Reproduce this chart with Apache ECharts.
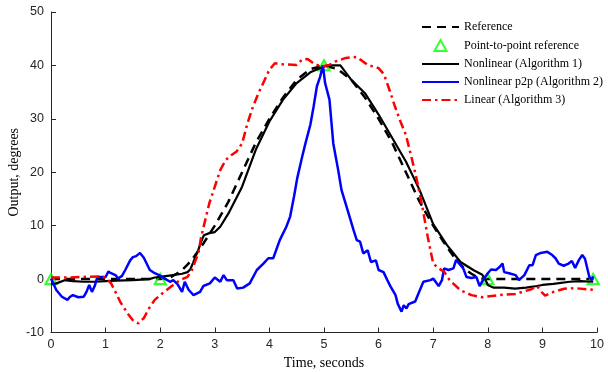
<!DOCTYPE html>
<html>
<head>
<meta charset="utf-8">
<script src="https://cdn.jsdelivr.net/npm/echarts@6/dist/echarts.min.js"></script>
<style>
  html, body { margin: 0; padding: 0; background: #fff; }
  #chart { width: 608px; height: 372px; }
</style>
</head>
<body>
<div id="chart"></div>
<script>
// values: [time (s), output (deg)]
const reference = [
  [0, 0], [0.5, 0], [1, 0], [1.5, 0], [2, 0], [2.1, 0.1], [2.2, 0.4], [2.3, 1.0], [2.4, 1.7],
  [2.5, 2.7], [2.6, 3.9], [2.7, 5.3], [2.8, 6.8], [2.9, 8.4], [3, 10], [3.25, 14.5], [3.5, 20],
  [3.75, 25.5], [4, 30], [4.25, 34], [4.5, 37.3], [4.75, 39.3], [5, 40], [5.25, 39.3], [5.5, 37.3],
  [5.75, 34], [6, 30], [6.25, 25.5], [6.5, 20], [6.75, 14.5], [7, 10], [7.1, 8.4], [7.2, 6.8],
  [7.3, 5.3], [7.4, 3.9], [7.5, 2.7], [7.6, 1.7], [7.7, 1.0], [7.8, 0.4], [7.9, 0.1], [8, 0],
  [8.5, 0], [9, 0], [9.5, 0], [9.93, 0]
];

const p2pPoints = [[0, 0], [2, 0], [5, 40], [8, 0], [9.93, 0]];

const nonlinear = [
  [0, -1.0], [0.1, -0.8], [0.25, -0.2], [0.4, -0.4], [0.6, -0.5], [0.8, -0.5], [1.0, -0.4],
  [1.2, -0.3], [1.5, -0.2], [1.8, 0], [1.9, 0.3], [2.0, 0.4], [2.2, 0.7], [2.4, 1.0], [2.5, 1.3],
  [2.55, 1.8], [2.6, 3.0], [2.65, 4.3], [2.7, 5.5], [2.75, 7.0], [2.8, 8.2], [2.9, 8.6], [3.0, 8.8],
  [3.1, 9.8], [3.25, 12.3], [3.5, 17.3], [3.75, 24.2], [4.0, 29.5], [4.25, 33.6], [4.5, 36.7],
  [4.75, 38.7], [5.0, 39.8], [5.1, 40], [5.3, 40], [5.5, 37.3], [5.75, 34.8], [6.0, 30.8],
  [6.25, 26.4], [6.5, 22], [6.75, 16.7], [7.0, 10.3], [7.25, 6.4], [7.5, 3.2], [7.75, 1.6],
  [7.9, 0.8], [7.95, 0], [8.0, -1.1], [8.1, -1.6], [8.3, -1.6], [8.5, -1.8], [8.7, -1.6],
  [8.9, -1.3], [9.0, -1.1], [9.2, -0.9], [9.5, -0.5], [9.7, -0.4], [9.93, -0.5]
];

const nonlinearP2p = [
  [0, 0.1], [0.05, -1.0], [0.1, -2.1], [0.2, -3.3], [0.3, -3.9], [0.35, -3.3], [0.4, -3.0],
  [0.5, -3.4], [0.6, -3.3], [0.65, -2.4], [0.7, -1.1], [0.75, -2.4], [0.8, -1.3], [0.85, 0.4],
  [0.9, 0.4], [1.0, 0.4], [1.05, 1.4], [1.1, 1.1], [1.18, 0.75], [1.23, 0.1], [1.3, 0.6],
  [1.36, 1.7], [1.45, 3.5], [1.5, 4.1], [1.56, 4.3], [1.63, 4.9], [1.7, 4.0], [1.81, 1.7],
  [1.9, 1.1], [1.98, 0.75], [2.1, 0.0], [2.18, -0.5], [2.24, -0.2], [2.32, -1.0], [2.4, -2.4],
  [2.45, -0.5], [2.52, -2.0], [2.61, -3.0], [2.73, -2.4], [2.79, -1.3], [2.91, -0.8], [3.0, 0.3],
  [3.1, -0.5], [3.16, 0.75], [3.22, -0.2], [3.34, -0.2], [3.41, -1.75], [3.52, -1.6], [3.64, -0.8],
  [3.77, 1.7], [3.89, 2.9], [3.98, 3.9], [4.07, 3.9], [4.19, 7.3], [4.31, 9.8], [4.38, 11.7],
  [4.45, 15.4], [4.51, 18.9], [4.6, 22.9], [4.66, 25.4], [4.75, 28.9], [4.81, 32.3], [4.87, 36.1],
  [4.93, 37.9], [4.98, 40.0], [5.02, 36.7], [5.1, 33.6], [5.17, 25.4], [5.26, 20.4], [5.32, 16.7],
  [5.45, 12.3], [5.54, 9.2], [5.6, 7.3], [5.66, 7.0], [5.72, 4.8], [5.8, 5.4], [5.86, 3.2],
  [5.95, 3.5], [6.0, 1.7], [6.09, 1.3], [6.16, -0.2], [6.22, -1.4], [6.31, -3.0], [6.35, -4.6],
  [6.42, -6.1], [6.46, -4.9], [6.51, -5.5], [6.55, -4.7], [6.67, -4.2], [6.73, -2.7], [6.82, -0.5],
  [6.95, -0.2], [7.0, 0.1], [7.1, -1.3], [7.16, -0.2], [7.2, 2.0], [7.28, 1.7], [7.37, 2.0],
  [7.42, 3.6], [7.48, 2.9], [7.55, 2.0], [7.61, 0.4], [7.7, 0.2], [7.79, 0.4], [7.85, -1.3],
  [7.91, -0.2], [8.0, 1.1], [8.06, 1.8], [8.15, 1.7], [8.21, 2.2], [8.27, 2.9], [8.3, 1.3],
  [8.39, 1.1], [8.51, 0.75], [8.57, -0.2], [8.67, 0.75], [8.76, 2.6], [8.82, 2.6], [8.88, 4.5],
  [8.97, 4.9], [9.09, 5.1], [9.18, 4.5], [9.24, 3.9], [9.3, 2.9], [9.39, 2.5], [9.48, 2.9],
  [9.54, 3.4], [9.6, 2.1], [9.67, 3.6], [9.73, 4.5], [9.78, 3.8], [9.86, 0.4], [9.91, -0.2],
  [9.93, 0.5]
];

const linear = [
  [0, 0.3], [0.3, 0.3], [0.6, 0.4], [0.9, 0.5], [1.0, 0.3], [1.1, -0.8], [1.2, -2.8], [1.27, -4.3],
  [1.4, -6.4], [1.5, -7.7], [1.6, -8.3], [1.7, -7.3], [1.8, -5.4], [1.9, -3.9], [2.0, -3.0],
  [2.2, -1.4], [2.36, -0.2], [2.5, 0.4], [2.58, 1.7], [2.7, 4.9], [2.75, 7.9], [2.9, 14.2],
  [3.0, 17.3], [3.1, 20.4], [3.2, 22.3], [3.3, 23.2], [3.4, 23.9], [3.5, 25.4], [3.6, 29.2],
  [3.7, 32.3], [3.8, 34.8], [3.9, 37], [4.0, 39.2], [4.1, 40.4], [4.25, 40.2], [4.5, 40.1],
  [4.6, 41.1], [4.7, 41.2], [4.85, 40.1], [5.0, 39.9], [5.1, 40.1], [5.2, 40.7], [5.4, 41.4],
  [5.6, 41.6], [5.8, 40.1], [6.0, 39.5], [6.1, 38.3], [6.2, 35.4], [6.3, 32.3], [6.4, 29.5],
  [6.5, 27], [6.6, 22.9], [6.7, 18.6], [6.8, 13.6], [6.9, 7.9], [7.0, 2.9], [7.1, 2.0], [7.2, 1.4],
  [7.3, -0.2], [7.5, -2.1], [7.7, -3.0], [7.9, -3.4], [8.2, -3.0], [8.5, -2.8], [8.8, -1.9],
  [8.9, -1.3], [9.0, -2.6], [9.05, -3.1], [9.2, -2.4], [9.4, -1.8], [9.6, -1.7], [9.8, -1.9],
  [9.93, -2.0]
];

const seriesNames = [
  'Reference',
  'Point-to-point reference',
  'Nonlinear (Algorithm 1)',
  'Nonlinear p2p (Algorithm 2)',
  'Linear (Algorithm 3)'
];

const axisColor = '#262626';
const tickFont = { color: axisColor, fontFamily: 'Liberation Sans', fontSize: 12.5 };
const nameFont = { color: '#000', fontFamily: 'Liberation Serif', fontSize: 14 };

const chart = echarts.init(document.getElementById('chart'), null, { renderer: 'canvas' });

// line items: hide the marker the legend adds; triangle item: keep its aspect
const legendData = seriesNames.map(function (name, i) {
  if (i === 1) {
    return { name: name, icon: 'path://M0,10 L5.5,0 L11,10 Z' };
  }
  return { name: name, itemStyle: { opacity: 0 } };
});

chart.setOption({
  animation: false,
  backgroundColor: '#fff',
  grid: { left: 51, right: 11, top: 12, bottom: 39.5, containLabel: false, outerBoundsMode: 'none' },
  legend: {
    orient: 'vertical',
    left: 416,
    top: 16,
    itemWidth: 37,
    itemHeight: 11,
    itemGap: 6,
    symbolKeepAspect: true,
    textStyle: { color: '#000', fontFamily: 'Liberation Serif', fontSize: 12 },
    data: legendData
  },
  xAxis: {
    type: 'value',
    min: 0,
    max: 10,
    interval: 1,
    name: 'Time, seconds',
    nameLocation: 'middle',
    nameGap: 23,
    nameTextStyle: nameFont,
    axisLine: { onZero: false, lineStyle: { color: axisColor, width: 1 } },
    axisTick: { inside: true, length: 5, lineStyle: { color: axisColor } },
    axisLabel: Object.assign({ margin: 6 }, tickFont),
    splitLine: { show: false }
  },
  yAxis: {
    type: 'value',
    min: -10,
    max: 50,
    interval: 10,
    name: 'Output, degrees',
    nameLocation: 'middle',
    nameGap: 30,
    nameMoveOverlap: false,
    nameTextStyle: nameFont,
    axisLine: { show: true, onZero: false, lineStyle: { color: axisColor, width: 1 } },
    axisTick: { show: true, inside: true, length: 5, lineStyle: { color: axisColor } },
    axisLabel: Object.assign({ margin: 7 }, tickFont),
    splitLine: { show: false }
  },
  series: [
    {
      name: seriesNames[0],
      type: 'line',
      data: reference,
      symbol: 'none',
      lineStyle: { color: '#000', width: 2.5, type: [9, 6] },
      itemStyle: { color: '#000' },
      z: 2
    },
    {
      name: seriesNames[1],
      type: 'scatter',
      data: p2pPoints,
      symbol: 'triangle',
      symbolSize: [11, 10],
      itemStyle: { color: 'rgba(255,255,255,0)', borderColor: '#00ff00', borderWidth: 2.2 },
      z: 3
    },
    {
      name: seriesNames[2],
      type: 'line',
      data: nonlinear,
      symbol: 'none',
      lineStyle: { color: '#000', width: 2.2 },
      itemStyle: { color: '#000' },
      z: 4
    },
    {
      name: seriesNames[3],
      type: 'line',
      data: nonlinearP2p,
      symbol: 'none',
      lineStyle: { color: '#0000ff', width: 2.5 },
      itemStyle: { color: '#0000ff' },
      z: 5
    },
    {
      name: seriesNames[4],
      type: 'line',
      data: linear,
      symbol: 'none',
      lineStyle: { color: '#ff0000', width: 2.5, type: [9, 4, 2.5, 4] },
      itemStyle: { color: '#ff0000' },
      z: 6
    }
  ]
});
</script>
</body>
</html>
